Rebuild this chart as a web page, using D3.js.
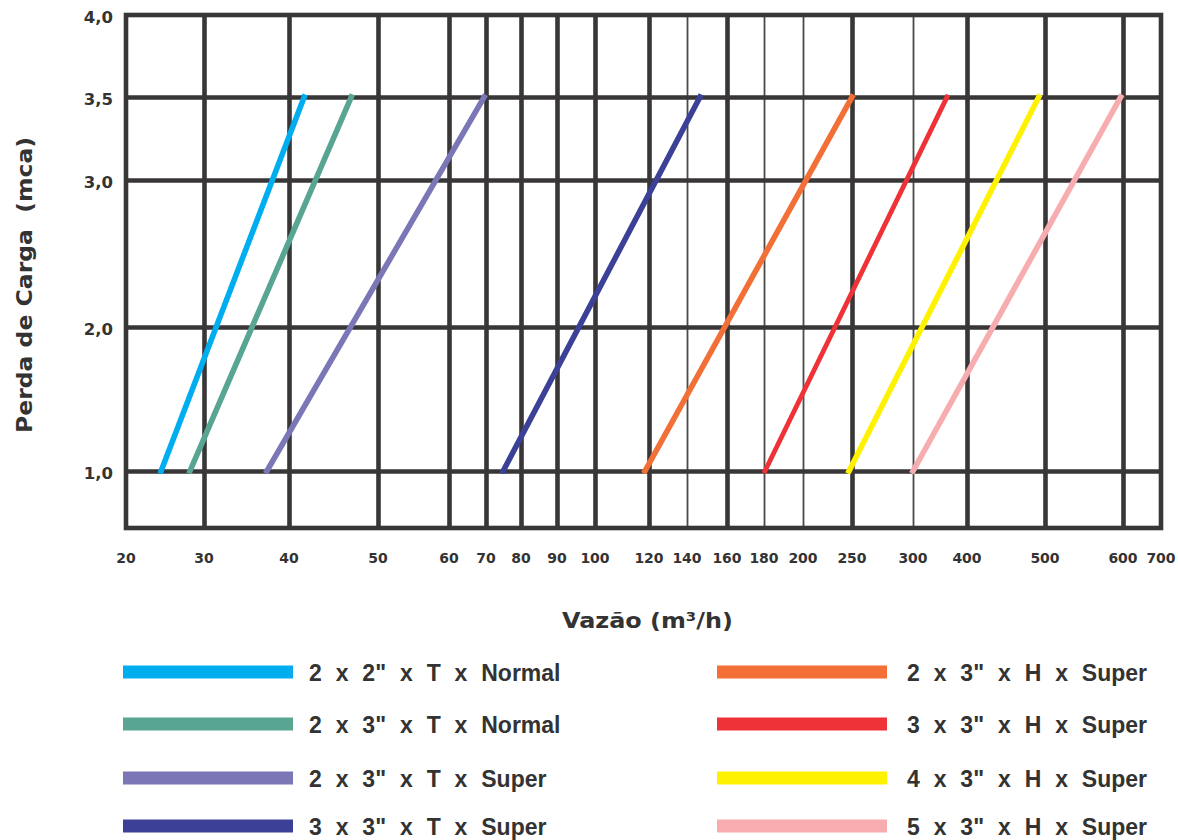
<!DOCTYPE html>
<html><head><meta charset="utf-8">
<script src="https://cdn.jsdelivr.net/npm/d3@7"></script>
<style>body{margin:0;background:#fff}svg{display:block}</style>
</head><body>
<svg id="chart" width="1178" height="840"></svg>
<script>
// ---------- data ----------
const xTicks = [20,30,40,50,60,70,80,90,100,120,140,160,180,200,250,300,400,500,600,700];
const xThinTicks = [140,180,200,300];
const yTicks = [1.0,2.0,3.0,3.5,4.0];
const yTickLabels = ["1,0","2,0","3,0","3,5","4,0"];
const pressure = [1.0, 3.5]; // mca at each end of every curve

const seriesNames = [
  '2 x 2" x T x Normal','2 x 3" x T x Normal','2 x 3" x T x Super','3 x 3" x T x Super',
  '2 x 3" x H x Super','3 x 3" x H x Super','4 x 3" x H x Super','5 x 3" x H x Super'
];
const flow_2x2_T_Normal = [24.5, 41.7];
const flow_2x3_T_Normal = [28.2, 47.0];
const flow_2x3_T_Super  = [37.4, 69.5];
const flow_3x3_T_Super  = [74.9, 146.5];
const flow_2x3_H_Super  = [118.5, 250];
const flow_3x3_H_Super  = [180.5, 363];
const flow_4x3_H_Super  = [247, 492];
const flow_5x3_H_Super  = [300, 597];
const seriesFlows = [flow_2x2_T_Normal,flow_2x3_T_Normal,flow_2x3_T_Super,flow_3x3_T_Super,
                     flow_2x3_H_Super,flow_3x3_H_Super,flow_4x3_H_Super,flow_5x3_H_Super];
const seriesColors = ["#00aeef","#58a593","#7b76b6","#3c4096","#f26f36","#ee3237","#fff200","#f7adb0"];

// ---------- layout (non-uniform printed chart paper) ----------
const xRange = [126,204,289,378,449,486,521,557,595,649,687,727,764,803,852,913,967,1045,1123,1161];
const yDomain = [0.6,1.0,2.0,3.0,3.5,4.0];
const yRange  = [528,471,327,180,97,15];
const gridColor = "#383636";
const textColor = "#333333";

const svg = d3.select("#chart");
const x = d3.scaleLinear().domain(xTicks).range(xRange);
const y = d3.scaleLinear().domain(yDomain).range(yRange);

const x0 = x(20), x1 = x(700), yTop = y(4.0), yBot = y(0.6);

// vertical grid via axis
const gx = svg.append("g").attr("transform",`translate(0,${yBot})`)
  .call(d3.axisBottom(x).tickValues(xTicks.filter(v=>v!==20&&v!==700)).tickSize(-(yBot-yTop)).tickSizeOuter(0).tickFormat(""));
gx.select(".domain").remove();
gx.selectAll(".tick line")
  .attr("stroke", d => xThinTicks.includes(d) ? "#4a4a4a" : gridColor)
  .attr("stroke-width", d => xThinTicks.includes(d) ? 1.8 : 4.6);

// horizontal grid via axis
const gy = svg.append("g").attr("transform",`translate(${x0},0)`)
  .call(d3.axisLeft(y).tickValues(yTicks.filter(v=>v!==4.0)).tickSize(-(x1-x0)).tickSizeOuter(0).tickFormat(""));
gy.select(".domain").remove();
gy.selectAll(".tick line").attr("stroke",gridColor).attr("stroke-width",4.6);

// frame
svg.append("rect").attr("x",x0).attr("y",yTop).attr("width",x1-x0).attr("height",yBot-yTop)
  .attr("fill","none").attr("stroke",gridColor).attr("stroke-width",4.6);

// tick labels
svg.append("g").selectAll("text").data(xTicks).join("text")
  .attr("x", d=>x(d)).attr("y", 563).attr("text-anchor","middle")
  .attr("font-family","DejaVu Sans").attr("font-weight","bold").attr("font-size",14)
  .attr("fill",textColor).text(d=>d);
svg.append("g").selectAll("text").data(yTicks).join("text")
  .attr("x", 113).attr("y", d=>y(d)+8).attr("text-anchor","end")
  .attr("font-family","DejaVu Sans").attr("font-weight","bold").attr("font-size",16.5)
  .attr("fill",textColor).text((d,i)=>yTickLabels[i]);

// axis titles
svg.append("text").attr("x",647.5).attr("y",628).attr("text-anchor","middle")
  .attr("font-family","DejaVu Sans").attr("font-weight","bold").attr("font-size",21)
  .attr("textLength",171).attr("lengthAdjust","spacingAndGlyphs")
  .attr("fill",textColor).text("Vazão (m³/h)");
svg.append("text").attr("transform","translate(32,285) rotate(-90)").attr("text-anchor","middle")
  .attr("font-family","DejaVu Sans").attr("font-weight","bold").attr("font-size",22)
  .attr("textLength",296).attr("lengthAdjust","spacingAndGlyphs").style("white-space","pre")
  .attr("fill",textColor).text("Perda de Carga  (mca)");

// curves
svg.append("clipPath").attr("id","band").append("rect")
  .attr("x",0).attr("width",1178).attr("y",y(3.5)-4).attr("height",(y(1.0)+3)-(y(3.5)-4));
const line = d3.line().x(d=>x(d[0])).y(d=>y(d[1]));
svg.append("g").attr("clip-path","url(#band)").selectAll("path")
  .data(seriesFlows.map(f=>f.map((q,i)=>[q,pressure[i]]))).join("path")
  .attr("d",line).attr("fill","none")
  .attr("stroke",(d,i)=>seriesColors[i])
  .attr("stroke-width",(d,i)=> i===5 ? 4.8 : 5.6)
  .attr("stroke-linecap","square");

// legend
const legRows = [672,724,778,826];
const leg = svg.append("g");
seriesNames.forEach((name,i)=>{
  const col = Math.floor(i/4), row = i%4;
  const sx = col===0 ? 123 : 717, tx = col===0 ? 309 : 907;
  leg.append("rect").attr("x",sx).attr("y",legRows[row]-6.5).attr("width",170).attr("height",13)
    .attr("fill",seriesColors[i]);
  leg.append("text").attr("x",tx).attr("y",legRows[row]+9)
    .attr("font-family","Liberation Sans, Arial").attr("font-weight","bold").attr("font-size",23)
    .attr("word-spacing",7.5).attr("fill",textColor).text(name);
});
</script>
</body></html>
